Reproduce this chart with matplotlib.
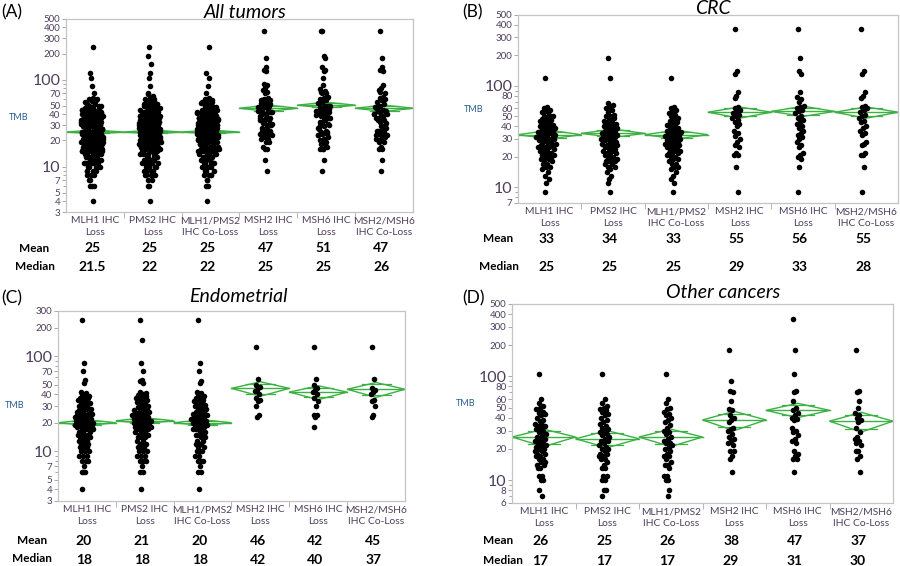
import numpy as np
import matplotlib
matplotlib.use("Agg")
import matplotlib.pyplot as plt
from matplotlib.patches import Polygon
from matplotlib.ticker import FixedLocator, NullFormatter, FixedFormatter
import matplotlib.transforms as mtransforms

plt.rcParams['font.family'] = ['Lato', 'DejaVu Sans']

categories = ["MLH1 IHC\nLoss", "PMS2 IHC\nLoss", "MLH1/PMS2\nIHC Co-Loss",
              "MSH2 IHC\nLoss", "MSH6 IHC\nLoss", "MSH2/MSH6\nIHC Co-Loss"]

# ---------------- CRC ----------------
crc_mlh1 = [120, 62, 60, 58, 57, 55, 52, 50, 50, 48, 47, 46, 45, 45, 44, 42, 41, 40, 40, 39, 38, 38, 37, 36,
            36, 35, 35, 34, 34, 33, 33, 32, 32, 31, 31, 30, 30, 30, 29, 29, 28, 28, 27, 27, 26, 26, 25, 25,
            25, 24, 24, 23, 23, 22, 22, 21, 21, 21, 20, 20, 19, 19, 18, 18, 17, 17, 16, 16, 15, 14, 13, 12, 11, 9]
crc_pms2 = [190, 120, 68, 65, 62, 60, 58, 55, 52, 50, 50, 48, 46, 45, 44, 43, 42, 41, 40, 39, 38, 38, 37, 36,
            36, 35, 34, 34, 33, 33, 32, 31, 31, 30, 30, 29, 29, 28, 28, 27, 27, 26, 26, 25, 25, 24, 24, 23,
            23, 22, 22, 21, 21, 20, 20, 19, 19, 18, 18, 18, 17, 17, 16, 16, 15, 14, 13, 12, 11, 9]
crc_co = [120, 62, 60, 58, 56, 54, 52, 50, 48, 46, 45, 44, 42, 41, 40, 39, 38, 37, 36, 36, 35, 35, 34, 33,
          33, 32, 32, 31, 30, 30, 29, 29, 28, 28, 27, 27, 26, 26, 25, 25, 24, 24, 23, 23, 22, 22, 21, 21,
          20, 20, 19, 19, 18, 17, 17, 16, 16, 15, 14, 13, 12, 11, 9]
crc_msh2 = [360, 140, 130, 88, 80, 76, 62, 60, 58, 56, 54, 52, 50, 48, 46, 44, 42, 40, 36, 34, 32, 30, 28,
            26, 25, 22, 21, 21, 16, 9]
crc_msh6 = [360, 190, 140, 130, 88, 78, 75, 70, 64, 62, 60, 58, 56, 54, 50, 48, 46, 44, 42, 40, 38, 36, 34,
            33, 31, 30, 28, 26, 25, 22, 21, 20, 19, 16, 9]
crc_co2 = [360, 140, 130, 88, 80, 76, 64, 62, 60, 58, 55, 52, 50, 48, 45, 44, 40, 38, 36, 34, 33, 28, 27,
           26, 22, 21, 21, 16, 9]

# ---------------- Endometrial ----------------
endo_mlh1 = [240, 85, 70, 57, 52, 42, 41, 40, 38, 37, 36, 36, 35, 35, 34, 33, 32, 31, 30, 30, 29, 28, 28, 27,
             27, 26, 26, 25, 25, 25, 24, 24, 24, 23, 23, 23, 22, 22, 22, 21, 21, 21, 20, 20, 20, 20, 19, 19,
             19, 19, 18, 18, 18, 18, 17, 17, 17, 16, 16, 16, 15, 15, 15, 14, 14, 14, 13, 13, 13, 12, 12, 12,
             11, 11, 11, 11, 10, 10, 10, 9, 9, 9, 8, 8, 8, 7, 6, 6, 6, 4]
endo_pms2 = [240, 150, 85, 70, 57, 55, 52, 42, 41, 40, 39, 38, 37, 36, 36, 35, 35, 34, 33, 32, 31, 30, 30, 29,
             28, 28, 27, 27, 26, 26, 25, 25, 25, 24, 24, 24, 23, 23, 23, 22, 22, 22, 21, 21, 21, 20, 20, 20,
             20, 19, 19, 19, 18, 18, 18, 18, 17, 17, 17, 16, 16, 16, 15, 15, 15, 14, 14, 14, 13, 13, 12, 12,
             12, 11, 11, 11, 10, 10, 10, 9, 9, 9, 8, 8, 8, 7, 6, 6, 4]
endo_co = [240, 85, 70, 55, 52, 42, 41, 40, 38, 37, 36, 35, 35, 34, 33, 32, 31, 30, 30, 29, 28, 28, 27, 26,
           26, 25, 25, 24, 24, 24, 23, 23, 22, 22, 22, 21, 21, 21, 20, 20, 20, 19, 19, 19, 18, 18, 18, 17,
           17, 17, 16, 16, 15, 15, 15, 14, 14, 13, 13, 12, 12, 12, 11, 11, 10, 10, 10, 9, 9, 8, 8, 8, 7, 6, 6, 4]
endo_msh2 = [125, 58, 50, 48, 44, 43, 40, 36, 35, 34, 30, 24, 23]
endo_msh6 = [125, 58, 50, 46, 44, 42, 40, 36, 34, 30, 24, 24, 23, 18]
endo_co2 = [125, 58, 46, 44, 42, 40, 35, 34, 30, 24, 23]

# ---------------- Other cancers ----------------
oth_mlh1 = [105, 60, 55, 52, 50, 48, 45, 44, 43, 42, 40, 38, 37, 35, 34, 33, 33, 32, 31, 30, 29, 28, 27, 26,
            25, 25, 24, 24, 23, 22, 22, 21, 20, 20, 19, 19, 18, 18, 17, 17, 16, 16, 15, 15, 14, 14, 13, 13,
            11, 11, 10, 10, 8, 7]
oth_pms2 = [105, 60, 55, 52, 50, 48, 47, 45, 43, 42, 40, 38, 36, 35, 33, 32, 31, 30, 29, 28, 27, 26, 25, 24,
            24, 23, 22, 21, 20, 20, 19, 18, 18, 17, 17, 16, 16, 15, 14, 13, 13, 11, 11, 10, 10, 8, 8, 7]
oth_co = [105, 60, 55, 50, 48, 45, 43, 42, 40, 38, 36, 34, 32, 30, 29, 28, 26, 25, 24, 23, 23, 22, 21, 20,
          19, 18, 17, 17, 16, 15, 14, 14, 13, 11, 11, 10, 10, 8, 7]
oth_msh2 = [180, 90, 72, 70, 58, 48, 47, 42, 40, 38, 36, 32, 31, 30, 28, 26, 25, 24, 23, 22, 19, 19, 17, 16, 12]
oth_msh6 = [360, 180, 105, 72, 70, 58, 50, 47, 44, 42, 40, 39, 38, 32, 30, 29, 27, 25, 24, 23, 19, 18, 17,
            16, 16, 12]
oth_co2 = [180, 72, 70, 58, 50, 44, 42, 40, 38, 36, 32, 29, 26, 25, 24, 23, 22, 19, 19, 17, 16, 12]

crc = [crc_mlh1, crc_pms2, crc_co, crc_msh2, crc_msh6, crc_co2]
endo = [endo_mlh1, endo_pms2, endo_co, endo_msh2, endo_msh6, endo_co2]
oth = [oth_mlh1, oth_pms2, oth_co, oth_msh2, oth_msh6, oth_co2]
alltum = [a + b + c for a, b, c in zip(crc, endo, oth)]

# Means / medians (table rows) and diamond confidence limits
mean_all = [25, 25, 25, 47, 51, 47]
median_all = ["21.5", "22", "22", "25", "25", "26"]
ci_all = [(23.8, 26.3), (23.8, 26.3), (23.8, 26.3), (43, 51), (47, 55), (43, 51)]

mean_crc = [33, 34, 33, 55, 56, 55]
median_crc = ["25", "25", "25", "29", "33", "28"]
ci_crc = [(30, 36.5), (31, 37.5), (30, 36.5), (48, 62), (50, 63), (48, 62)]

mean_endo = [20, 21, 20, 46, 42, 45]
median_endo = ["18", "18", "18", "42", "40", "37"]
ci_endo = [(18.7, 21.5), (19.6, 22.5), (18.7, 21.5), (38, 54), (35, 49), (37, 53)]

mean_oth = [26, 25, 26, 38, 47, 37]
median_oth = ["17", "17", "17", "29", "31", "30"]
ci_oth = [(21, 31), (20.5, 30), (21, 31), (30, 46), (40, 55), (29, 45)]

W, H = 900, 566
fig = plt.figure(figsize=(W / 100, H / 100), dpi=100)

TICKCOL = '#4d3f5c'
GREEN = '#3cb043'


def add_ax(x0, y0, x1, y1):
    return fig.add_axes([x0 / W, 1 - y1 / H, (x1 - x0) / W, (y1 - y0) / H])


def jitter(vals):
    v = np.log10(np.array(vals, dtype=float))
    n = len(v)
    offs = np.zeros(n)
    phi = 0.6180339887
    for i in range(n):
        dens = np.sum(np.abs(v - v[i]) < 0.06)
        w = min(0.19, 0.02 + 0.008 * dens)
        f = (i * phi) % 1.0
        offs[i] = (f - 0.5) * 2 * w
    return offs


def panel(rect, data, means, cis, medians, ylim, major, minor, title, title_xy,
          letter, letter_xy, tmb_xy, mean_xy, median_xy, row_y):
    ax = add_ax(*rect)
    ax.set_yscale('log')
    ax.set_ylim(*ylim)
    ax.set_xlim(-0.5, 5.5)
    for i, vals in enumerate(data):
        x = i + jitter(vals) - 0.05
        ax.scatter(x, vals, s=16, color='black', zorder=3, linewidths=0)
        m = means[i]
        lo, hi = cis[i]
        poly = Polygon([(i - 0.5, m), (i, hi), (i + 0.5, m), (i, lo)], closed=True,
                       fill=False, edgecolor=GREEN, lw=1.0, zorder=2)
        ax.add_patch(poly)
        ax.plot([i - 0.5, i + 0.5], [m, m], color=GREEN, lw=1.0, zorder=2)
        d_up = (hi - m) * 0.707
        d_lo = (m - lo) * 0.707
        ax.plot([i - 0.25, i + 0.25], [m + d_up, m + d_up], color=GREEN, lw=0.9, zorder=2)
        ax.plot([i - 0.25, i + 0.25], [m - d_lo, m - d_lo], color=GREEN, lw=0.9, zorder=2)
    ax.yaxis.set_major_locator(FixedLocator(major))
    ax.yaxis.set_major_formatter(FixedFormatter([str(t) for t in major]))
    ax.yaxis.set_minor_locator(FixedLocator(minor))
    ax.yaxis.set_minor_formatter(NullFormatter())
    ax.tick_params(axis='y', which='major', length=3, width=0.6, color='#999999',
                   labelsize=7, labelcolor=TICKCOL, pad=1)
    ax.tick_params(axis='y', which='minor', length=2, width=0.6, color='#999999')
    for lab, t in zip(ax.get_yticklabels(), major):
        if t in (10, 100):
            lab.set_fontsize(11.5)
    ax.set_xticks([i + 0.5 for i in range(5)])
    ax.set_xticklabels([])
    ax.set_xticks(range(6), minor=True)
    ax.set_xticklabels(categories, minor=True, fontsize=7.4, color=TICKCOL, linespacing=1.35)
    ax.tick_params(axis='x', which='major', length=4, width=0.6, color='#aaaaaa')
    ax.tick_params(axis='x', which='minor', length=0, pad=3)
    for sp in ax.spines.values():
        sp.set_color('#c4c4c4')
        sp.set_linewidth(0.9)
    fig.text(title_xy[0] / W, 1 - title_xy[1] / H, title, fontsize=14, style='italic',
             ha='center', va='center')
    fig.text(letter_xy[0] / W, 1 - letter_xy[1] / H, letter, fontsize=12.5, ha='left', va='center')
    fig.text(tmb_xy[0] / W, 1 - tmb_xy[1] / H, "TMB", fontsize=6.5, color='#2a5d8f',
             ha='center', va='center')
    fig.text(mean_xy[0] / W, 1 - mean_xy[1] / H, "Mean", fontsize=8.5, fontweight='bold',
             ha='center', va='center')
    fig.text(median_xy[0] / W, 1 - median_xy[1] / H, "Median", fontsize=8.5, fontweight='bold',
             ha='center', va='center')
    trans = mtransforms.blended_transform_factory(ax.transData, fig.transFigure)
    for i in range(6):
        ax.text(i - 0.05, 1 - row_y[0] / H, str(means[i]), transform=trans, fontsize=10,
                fontweight='bold', ha='center', va='center', clip_on=False)
        ax.text(i - 0.05, 1 - row_y[1] / H, medians[i], transform=trans, fontsize=10,
                fontweight='bold', ha='center', va='center', clip_on=False)
    return ax


panel((66, 19, 413, 212), alltum, mean_all, ci_all, median_all, (3, 500),
      [3, 4, 5, 7, 10, 20, 30, 40, 50, 70, 100, 200, 300, 400, 500], [6, 8, 9, 60, 80, 90],
      "All tumors", (245, 12), "(A)", (1, 12), (19, 117), (34, 248), (35, 267), (248, 267))

panel((518, 15, 898, 203), crc, mean_crc, ci_crc, median_crc, (7, 500),
      [7, 10, 20, 30, 40, 50, 60, 80, 100, 200, 300, 400, 500], [8, 9, 70, 90],
      "CRC", (713, 9), "(B)", (462, 12), (474, 110), (498, 239), (499, 267), (239, 267))

panel((58, 311, 405, 501), endo, mean_endo, ci_endo, median_endo, (3, 300),
      [3, 4, 5, 7, 10, 20, 30, 40, 50, 70, 100, 200, 300], [6, 8, 9, 60, 80, 90],
      "Endometrial", (238, 297), "(C)", (1, 298), (15, 406), (32, 541), (32, 559), (541, 560))

panel((512, 304, 893, 503), oth, mean_oth, ci_oth, median_oth, (6, 500),
      [6, 8, 10, 20, 30, 40, 50, 60, 80, 100, 200, 300, 400, 500], [7, 9, 70, 90],
      "Other cancers", (723, 292), "(D)", (462, 298), (466, 404), (498, 541), (503, 561), (541, 561))

fig.savefig("out.png", dpi=100)
